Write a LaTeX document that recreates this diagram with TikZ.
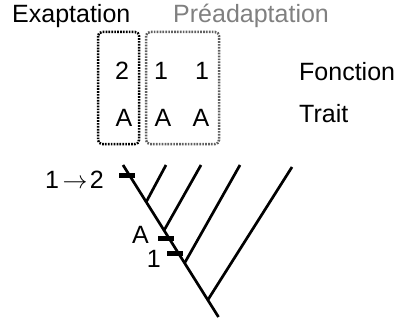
\documentclass[tikz,border=0pt]{standalone}
\usepackage{fontspec}
\setmainfont{Liberation Sans}
\usetikzlibrary{calc}
\definecolor{pregray}{HTML}{808080}
\definecolor{boxgray}{HTML}{606060}
\begin{document}
\begin{tikzpicture}[x=1pt,y=-1pt,
  lbl/.style={inner sep=0pt,font=\fontsize{25}{29}\selectfont},
  dotbox/.style={line width=2.5pt,dash pattern=on 1.7pt off 1.2pt,rounded corners=4pt},
  branch/.style={line width=2.7pt},
  tick/.style={fill=black,inner sep=0pt,minimum width=16pt,minimum height=5pt}]
\useasboundingbox (0,0) rectangle (401,321);
% titles
\node[lbl,anchor=base west] (exa) at (12,23) {Exaptation};
\node[lbl,anchor=base west,text=pregray] (pre) at (173,23) {Préadaptation};
% boxes
\draw[dotbox] (98,32) rectangle (139,144);
\draw[dotbox,boxgray] (146,32) rectangle (219,144);
% states
\node[lbl,anchor=base] (f1) at (122,79) {2};
\node[lbl,anchor=base] (f2) at (161,79) {1};
\node[lbl,anchor=base] (f3) at (202,79) {1};
\node[lbl,anchor=base] (t1) at (124,126) {A};
\node[lbl,anchor=base] (t2) at (163,126) {A};
\node[lbl,anchor=base] (t3) at (201,126) {A};
\node[lbl,anchor=base west] (fon) at (299,80) {Fonction};
\node[lbl,anchor=base west] (tra) at (299,122) {Trait};
% tree
\coordinate (top) at (123,165);
\coordinate (root) at (218.5,317);
\draw[branch] (top) -- (root);
\coordinate (j1) at ($(top)!0.243!(root)$);
\coordinate (j2) at ($(top)!0.43!(root)$);
\coordinate (j3) at ($(top)!0.645!(root)$);
\coordinate (j4) at ($(top)!0.888!(root)$);
\coordinate (l1) at (166,165);
\coordinate (l2) at (201,165);
\coordinate (l3) at (240,165);
\coordinate (l4) at (292,167);
\draw[branch] (j1) -- (l1);
\draw[branch] (j2) -- (l2);
\draw[branch] (j3) -- (l3);
\draw[branch] (j4) -- (l4);
% character changes
\node[tick] (k1) at (127,175) {};
\node[tick] (k2) at (166,238.5) {};
\node[tick] (k3) at (174.5,253.5) {};
\node[lbl,anchor=base east] (c1) at (104,188) {1\hspace{3.5pt}$\rightarrow$\hspace{2.5pt}2};
\node[lbl,anchor=base east] (c2) at (149,243) {A};
\node[lbl,anchor=base east] (c3) at (161,267) {1};
\end{tikzpicture}
\end{document}
